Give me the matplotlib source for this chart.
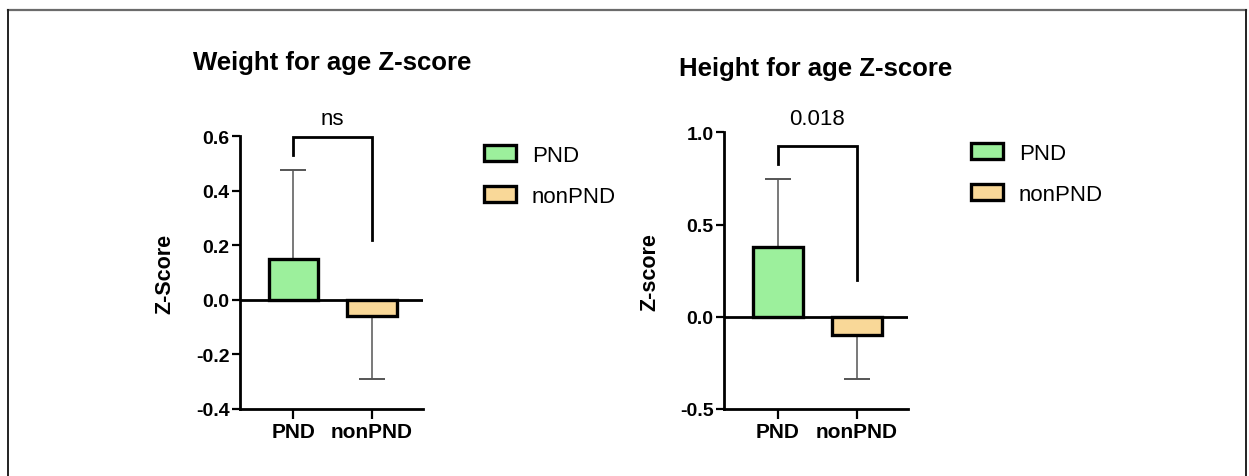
import matplotlib
matplotlib.use("Agg")
import matplotlib.pyplot as plt
from matplotlib.patches import Patch
from matplotlib.lines import Line2D

plt.rcParams['font.family'] = ['Liberation Sans', 'DejaVu Sans']

# ---- data ----
groups = ["PND", "nonPND"]
colors = ["#9cf09c", "#f9d898"]

weight_title = "Weight for age Z-score"
weight_ylabel = "Z-Score"
weight_means = [0.15, -0.06]
weight_errs = [0.324, 0.23]
weight_ticks = [-0.4, -0.2, 0.0, 0.2, 0.4, 0.6]
weight_ticklabels = ["-0.4", "-0.2", "0.0", "0.2", "0.4", "0.6"]
weight_ylim = (-0.4, 0.6)
weight_sig = "ns"
weight_sig_y = 0.665
weight_bracket = [0.53, 0.595, 0.22]   # left leg end, top, right leg end

height_title = "Height for age Z-score"
height_ylabel = "Z-score"
height_means = [0.38, -0.10]
height_errs = [0.365, 0.235]
height_ticks = [-0.5, 0.0, 0.5, 1.0]
height_ticklabels = ["-0.5", "0.0", "0.5", "1.0"]
height_ylim = (-0.5, 1.0)
height_sig = "0.018"
height_sig_y = 1.075
height_bracket = [0.83, 0.925, 0.20]

W, H = 1249, 477
fig = plt.figure(figsize=(W / 100, H / 100), dpi=100)


def px_box(x0, x1, ytop, ybot):
    return [x0 / W, 1 - ybot / H, (x1 - x0) / W, (ybot - ytop) / H]


def draw_panel(rect, means, errs, ticks, ticklabels, ylim, sig, sig_y, bracket,
               title, title_xy, ylabel, ylabel_xy, legend_xy):
    ax = fig.add_axes(rect)
    x = [0, 1]
    ax.bar(x, means, width=0.63, color=colors, edgecolor="black",
           linewidth=2.4, zorder=3)
    for i in range(2):
        if means[i] >= 0:
            yerr = [[0], [errs[i]]]
        else:
            yerr = [[errs[i]], [0]]
        ax.errorbar([x[i]], [means[i]], yerr=yerr, fmt="none",
                    ecolor="#555555", elinewidth=1.1, capsize=9.5,
                    capthick=1.4, zorder=2)
    ax.set_xlim(-0.68, 1.65)
    ax.set_ylim(*ylim)
    ax.axhline(0, color="black", linewidth=2.0, zorder=4)
    ax.set_xticks(x)
    ax.set_xticklabels(groups, fontsize=15, fontweight="bold")
    ax.set_yticks(ticks)
    ax.set_yticklabels(ticklabels, fontsize=14, fontweight="bold")
    for s in ["top", "right"]:
        ax.spines[s].set_visible(False)
    for s in ["left", "bottom"]:
        ax.spines[s].set_linewidth(2.0)
    ax.tick_params(axis="y", length=6, width=1.6, pad=1.5)
    ax.tick_params(axis="x", length=7.5, width=1.6, pad=2)
    # significance bracket
    ax.plot([0, 0, 1, 1], [bracket[0], bracket[1], bracket[1], bracket[2]],
            color="black", linewidth=2.0, clip_on=False, zorder=5,
            solid_joinstyle="miter")
    ax.text(0.5, sig_y, sig, ha="center", va="center", fontsize=16,
            clip_on=False)
    fig.text(title_xy[0] / W, 1 - title_xy[1] / H, title, ha="left",
             va="center", fontsize=18.5, fontweight="bold")
    fig.text(ylabel_xy[0] / W, 1 - ylabel_xy[1] / H, ylabel, ha="center",
             va="center", rotation=90, fontsize=15.5, fontweight="bold")
    handles = [Patch(facecolor=colors[i], edgecolor="black", linewidth=2.4,
                     label=groups[i]) for i in range(2)]
    fig.legend(handles=handles, loc="upper left",
               bbox_to_anchor=(legend_xy[0] / W, 1 - legend_xy[1] / H),
               frameon=False, fontsize=16, borderpad=0, borderaxespad=0,
               handlelength=1.45, handleheight=0.75, handletextpad=0.7,
               labelspacing=0.9)
    return ax


draw_panel(px_box(240, 423, 137, 410), weight_means, weight_errs,
           weight_ticks, weight_ticklabels, weight_ylim, weight_sig,
           weight_sig_y, weight_bracket, weight_title, (193, 63),
           weight_ylabel, (165, 274), (484, 146))
draw_panel(px_box(724, 908, 133.3, 410), height_means, height_errs,
           height_ticks, height_ticklabels, height_ylim, height_sig,
           height_sig_y, height_bracket, height_title, (679, 69),
           height_ylabel, (650, 272), (971, 144))

# outer frame (top, left, right)
fig.add_artist(Line2D([8 / W, 1246 / W], [1 - 11 / H, 1 - 11 / H],
                      transform=fig.transFigure, color="#6b6b6b", linewidth=1.6))
fig.add_artist(Line2D([8 / W, 8 / W], [1 - 11 / H, 0],
                      transform=fig.transFigure, color="#222222", linewidth=1.4))
fig.add_artist(Line2D([1246 / W, 1246 / W], [1 - 11 / H, 0],
                      transform=fig.transFigure, color="#222222", linewidth=1.4))

fig.savefig("out.png", dpi=100)
